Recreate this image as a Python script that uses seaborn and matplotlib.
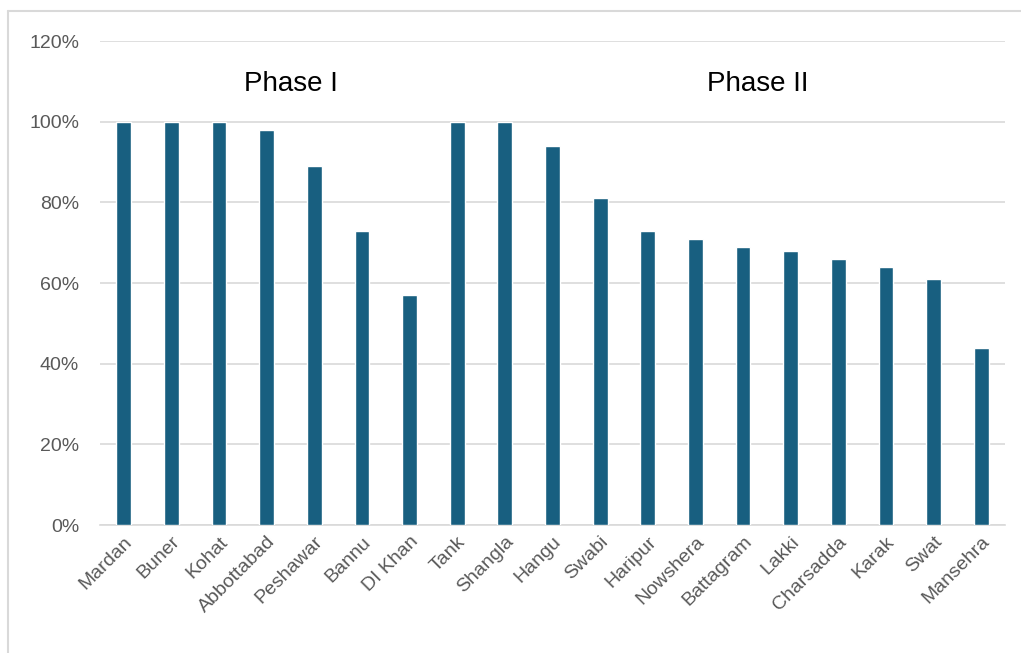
import matplotlib
matplotlib.use("Agg")
import matplotlib.pyplot as plt
import seaborn as sns
import pandas as pd
from matplotlib.ticker import FuncFormatter
from matplotlib.lines import Line2D

districts = ["Mardan", "Buner", "Kohat", "Abbottabad", "Peshawar", "Bannu", "DI Khan",
             "Tank", "Shangla", "Hangu", "Swabi", "Haripur", "Nowshera", "Battagram",
             "Lakki", "Charsadda", "Karak", "Swat", "Mansehra"]
values = [100, 100, 100, 98, 89, 73, 57, 100, 100, 94, 81, 73, 71, 69, 68, 66, 64, 61, 44]
phase_labels = ["Phase I", "Phase II"]
phase_pos = [3.5, 13.3]

df = pd.DataFrame({"district": districts, "value": values})

sns.set_theme(style="white")
plt.rcParams["font.family"] = ["Liberation Sans", "DejaVu Sans"]

fig = plt.figure(figsize=(10.21, 6.53), dpi=100)
ax = fig.add_axes([100/1021, 1 - 525/653, (1005-100)/1021, (525-41)/653])

sns.barplot(data=df, x="district", y="value", color="#185F80", width=0.31,
            saturation=1, ax=ax, zorder=3)

ax.set_ylim(0, 120)
ax.set_xlim(-0.5, len(districts) - 0.5)
ax.set_yticks(range(0, 121, 20))
ax.yaxis.set_major_formatter(FuncFormatter(lambda v, p: f"{int(v)}%"))
ax.grid(axis="y", color="#d9d9d9", linewidth=1.2, zorder=0)
ax.set_axisbelow(True)
for s in ["top", "right", "left"]:
    ax.spines[s].set_visible(False)
ax.spines["bottom"].set_color("#d9d9d9")
ax.spines["bottom"].set_linewidth(1.2)
ax.set_xlabel("")
ax.set_ylabel("")
ax.tick_params(axis="both", length=0, colors="#595959")
ax.tick_params(axis="y", pad=15, labelsize=14)
ax.tick_params(axis="x", pad=6, labelsize=14)
plt.setp(ax.get_xticklabels(), rotation=45, ha="right", rotation_mode="anchor")

for lab, pos in zip(phase_labels, phase_pos):
    ax.text(pos, 109.3, lab, ha="center", va="center", fontsize=20, color="black")

# chart border (top and left visible)
fig.add_artist(Line2D([8/1021, 8/1021], [0, 1 - 11/653], transform=fig.transFigure,
                      color="#d9d9d9", linewidth=1.5))
fig.add_artist(Line2D([8/1021, 1], [1 - 11/653, 1 - 11/653], transform=fig.transFigure,
                      color="#d9d9d9", linewidth=1.5))

fig.savefig("out.png", dpi=100)
